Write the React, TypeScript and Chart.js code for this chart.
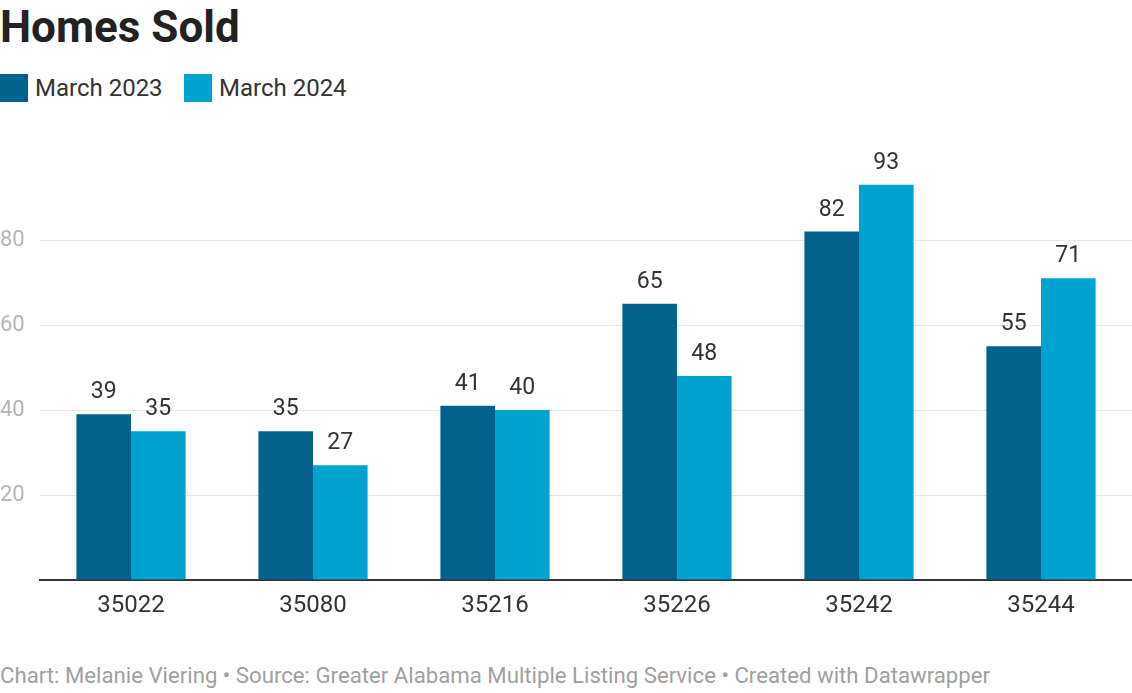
import React, { useEffect, useRef } from "react";
import { Chart, registerables } from "chart.js";

Chart.register(...registerables);

const categories = ["35022", "35080", "35216", "35226", "35242", "35244"];
const march2023 = [39, 35, 41, 65, 82, 55];
const march2024 = [35, 27, 40, 48, 93, 71];
const seriesNames = ["March 2023", "March 2024"];
const seriesColors = ["#03628b", "#00a3d0"];
const yTicks = [20, 40, 60, 80];

const FONT = "Roboto, 'Noto Sans', sans-serif";

const valueLabels = {
  id: "valueLabels",
  afterDatasetsDraw(chart: any) {
    const ctx = chart.ctx;
    ctx.save();
    ctx.font = `23px ${FONT}`;
    ctx.fillStyle = "#333333";
    ctx.textAlign = "center";
    ctx.textBaseline = "alphabetic";
    chart.data.datasets.forEach((ds: any, i: number) => {
      const meta = chart.getDatasetMeta(i);
      meta.data.forEach((el: any, j: number) => {
        ctx.fillText(String(ds.data[j]), el.x, el.y - 16);
      });
    });
    ctx.restore();
  },
};

export default function App() {
  const ref = useRef<HTMLCanvasElement | null>(null);

  useEffect(() => {
    if (!ref.current) return;
    const chart = new Chart(ref.current, {
      type: "bar",
      data: {
        labels: categories,
        datasets: [
          {
            label: seriesNames[0],
            data: march2023,
            backgroundColor: seriesColors[0],
            categoryPercentage: 0.6,
            barPercentage: 1.0,
          },
          {
            label: seriesNames[1],
            data: march2024,
            backgroundColor: seriesColors[1],
            categoryPercentage: 0.6,
            barPercentage: 1.0,
          },
        ],
      },
      options: {
        animation: false,
        responsive: false,
        devicePixelRatio: 1,
        layout: { padding: { top: 45, left: 0, right: 0, bottom: 0 } },
        plugins: {
          legend: { display: false },
          tooltip: { enabled: false },
          title: { display: false },
        },
        scales: {
          x: {
            grid: { display: false, drawTicks: false },
            border: { display: true, color: "#333333", width: 2 },
            ticks: {
              color: "#333333",
              font: { family: FONT, size: 24 },
              padding: 12,
            },
            afterFit(scale: any) {
              scale.height = 50;
            },
          },
          y: {
            min: 0,
            max: 100,
            border: { display: false },
            grid: {
              drawTicks: false,
              color: (c: any) =>
                yTicks.includes(c.tick?.value) ? "#e6e6e6" : "rgba(0,0,0,0)",
              lineWidth: 1,
            },
            ticks: {
              stepSize: 20,
              color: "#b5b5b5",
              font: { family: FONT, size: 22 },
              crossAlign: "far",
              padding: 0,
              callback: (v: any) => (yTicks.includes(Number(v)) ? String(v) : ""),
            },
            afterFit(scale: any) {
              scale.width = 40;
            },
          },
        },
      },
      plugins: [valueLabels],
    } as any);
    return () => chart.destroy();
  }, []);

  return (
    <div
      style={{
        position: "fixed",
        left: 0,
        top: 0,
        width: 1132,
        height: 693,
        background: "#ffffff",
        fontFamily: FONT,
        overflow: "hidden",
      }}
    >
      <div
        style={{
          position: "absolute",
          left: 0,
          top: 5,
          fontSize: 44,
          lineHeight: "44px",
          fontWeight: 700,
          color: "#222222",
          whiteSpace: "nowrap",
        }}
      >
        Homes Sold
      </div>
      {seriesNames.map((name, i) => (
        <div
          key={name}
          style={{
            position: "absolute",
            left: i === 0 ? 0 : 184,
            top: 74,
            height: 28,
            display: "flex",
            alignItems: "center",
            whiteSpace: "nowrap",
          }}
        >
          <span
            style={{
              display: "inline-block",
              width: 28,
              height: 28,
              background: seriesColors[i],
              marginRight: 7,
            }}
          />
          <span style={{ fontSize: 24, lineHeight: "28px", color: "#333333" }}>{name}</span>
        </div>
      ))}
      <canvas
        ref={ref}
        width={1132}
        height={520}
        style={{ position: "absolute", left: 0, top: 110, width: 1132, height: 520 }}
      />
      <div
        style={{
          position: "absolute",
          left: 0,
          top: 664,
          fontSize: 22.2,
          lineHeight: "22px",
          color: "#a0a0a0",
          whiteSpace: "nowrap",
        }}
      >
        Chart: Melanie Viering • Source: Greater Alabama Multiple Listing Service • Created with Datawrapper
      </div>
    </div>
  );
}
